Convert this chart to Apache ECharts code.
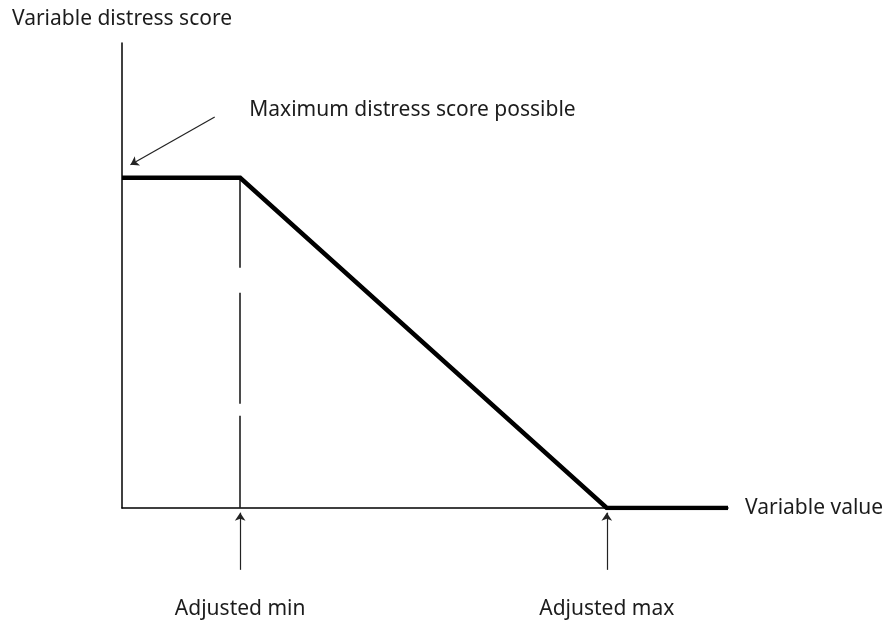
<!DOCTYPE html>
<html>
<head>
<meta charset="utf-8">
<script src="https://cdn.jsdelivr.net/npm/echarts@6/dist/echarts.min.js"></script>
<style>
  html, body { margin: 0; padding: 0; background: #fff; }
  #chart-container { width: 891px; height: 621px; }
</style>
</head>
<body>
<div id="chart-container"></div>
<script>
// shape of the distress score curve (abstract units, 0..100 on both axes)
const xValues = [0, 19.5, 80, 100];
const scoreValues = [71, 71, 0, 0];
const adjustedMin = 19.5;
const adjustedMax = 80;
const tickLabels = { 19.5: "Adjusted min", 80: "Adjusted max" };
const maxNote = "Maximum distress score possible";

const FONT = "Noto Sans";
const SIZE = 21;
const TEXT = "#1c1c1c";

const chartContainer = document.getElementById("chart-container");
const myChart = echarts.init(chartContainer);

const option = {
  animation: false,
  grid: { left: 122, right: 163, top: 43, bottom: 113 },
  xAxis: {
    type: "value",
    min: 0,
    max: 100,
    name: "Variable value",
    nameLocation: "end",
    nameGap: 17,
    nameTextStyle: { fontFamily: FONT, fontSize: SIZE, color: TEXT, align: "left", verticalAlign: "middle" },
    axisLine: { lineStyle: { color: "#000", width: 1.5 } },
    axisTick: { show: false },
    splitLine: { show: false },
    axisLabel: {
      customValues: [adjustedMin, adjustedMax],
      formatter: (v) => tickLabels[v] || "",
      margin: 91,
      fontFamily: FONT,
      fontSize: SIZE,
      color: TEXT,
    },
  },
  yAxis: {
    type: "value",
    min: 0,
    max: 100,
    name: "Variable distress score",
    nameLocation: "end",
    nameGap: 24,
    nameTextStyle: { fontFamily: FONT, fontSize: SIZE, color: TEXT, align: "center", verticalAlign: "middle" },
    axisLine: { show: true, lineStyle: { color: "#000", width: 1.5 } },
    axisTick: { show: false },
    axisLabel: { show: false },
    splitLine: { show: false },
  },
  series: [
    {
      type: "lines",
      coordinateSystem: "cartesian2d",
      clip: false,
      silent: true,
      lineStyle: { color: "#111", width: 1.5, type: [90, 25, 111, 12, 92], opacity: 1 },
      data: [{ coords: [[adjustedMin, scoreValues[1]], [adjustedMin, 0]] }],
    },
    {
      type: "line",
      data: xValues.map((x, i) => [x, scoreValues[i]]),
      showSymbol: false,
      lineStyle: { color: "#000", width: 4.5, join: "miter" },
      z: 3,
    },
    {
      // arrows
      type: "lines",
      coordinateSystem: "cartesian2d",
      clip: false,
      silent: true,
      symbol: ["none", "arrow"],
      symbolSize: 8,
      lineStyle: { color: "#222", width: 1.2, opacity: 1 },
      data: [
        { coords: [[adjustedMin, -13.3], [adjustedMin, -1]] },
        { coords: [[adjustedMax, -13.3], [adjustedMax, -1]] },
        { coords: [[15.3, 84.1], [1.4, 73.8]] },
      ],
    },
  ],
};

myChart.setOption(option);

const notePos = myChart.convertToPixel({ gridIndex: 0 }, [21, 85.6]);
myChart.setOption({
  graphic: [
    {
      type: "text",
      x: notePos[0],
      y: notePos[1],
      style: { text: maxNote, fontFamily: FONT, fontSize: SIZE, fill: TEXT, verticalAlign: "middle" },
    },
  ],
});
</script>
</body>
</html>
